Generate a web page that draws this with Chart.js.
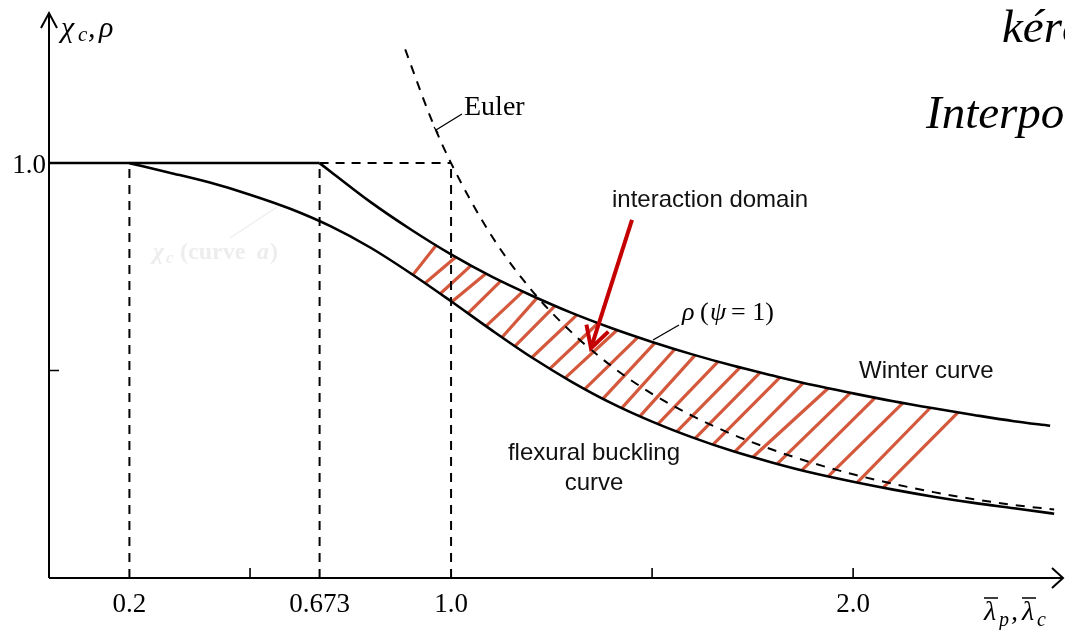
<!DOCTYPE html>
<html>
<head>
<meta charset="utf-8">
<script src="https://cdn.jsdelivr.net/npm/chart.js@4/dist/chart.umd.min.js"></script>
<style>
  html, body { margin: 0; padding: 0; background: #ffffff; }
  #wrap { width: 1065px; height: 630px; position: relative; }
</style>
</head>
<body>
<div id="wrap"><canvas id="c" width="1065" height="630"></canvas></div>
<script>
// Flexural buckling reduction factor (curve a)
const lambdaChi = [0.2, 0.3, 0.4, 0.5, 0.6, 0.7, 0.8, 0.9, 1.0, 1.1, 1.2, 1.3, 1.4, 1.5, 1.6, 1.7, 1.8, 1.9, 2.0, 2.1, 2.2, 2.3, 2.4, 2.5];
const chiC      = [1.0, 0.977, 0.953, 0.924, 0.890, 0.848, 0.796, 0.734, 0.667, 0.598, 0.532, 0.473, 0.421, 0.377, 0.339, 0.306, 0.278, 0.253, 0.232, 0.213, 0.196, 0.181, 0.168, 0.155];

// Winter plate buckling curve rho (psi = 1)
const lambdaRho = [0.673, 0.7, 0.8, 0.9, 1.0, 1.1, 1.2, 1.3, 1.4, 1.5, 1.6, 1.7, 1.8, 1.9, 2.0, 2.1, 2.2, 2.3, 2.4, 2.49];
const rhoWinter = [1.0, 0.980, 0.906, 0.840, 0.780, 0.727, 0.681, 0.639, 0.602, 0.569, 0.539, 0.512, 0.488, 0.465, 0.445, 0.426, 0.409, 0.393, 0.378, 0.367];

// Euler hyperbola
const lambdaEuler = [0.886, 0.95, 1.0, 1.1, 1.2, 1.3, 1.4, 1.5, 1.6, 1.7, 1.8, 1.9, 2.0, 2.1, 2.2, 2.3, 2.4, 2.5];
const eulerValues = [1.274, 1.108, 1.0, 0.826, 0.694, 0.592, 0.510, 0.444, 0.391, 0.346, 0.309, 0.277, 0.250, 0.227, 0.207, 0.190, 0.176, 0.165];

// Plateau and dashed reference lines
const plateauX = [0, 0.673];
const refVerticalX = [0.2, 0.673, 1.0];
const refHorizontalX = [0.673, 1.0];
const refLevel = 1.0;

// Hatching of the interaction domain: slenderness at the lower and upper end of each stroke
const hatchFrom = [0.905, 0.935, 0.973, 1.002, 1.042, 1.087, 1.127, 1.159, 1.201, 1.246, 1.284, 1.333, 1.378, 1.425, 1.470, 1.515, 1.562, 1.607, 1.652, 1.706, 1.751, 1.811, 1.873, 1.938, 2.010, 2.075];
const hatchTo   = [0.963, 1.012, 1.050, 1.087, 1.124, 1.179, 1.214, 1.259, 1.313, 1.366, 1.413, 1.465, 1.507, 1.557, 1.607, 1.664, 1.719, 1.769, 1.818, 1.876, 1.938, 1.993, 2.055, 2.124, 2.192, 2.261];

// Axis ticks and labels
const xTickValues = [0.2, 0.673, 1.0, 2.0];
const xTickLabels = ['0.2', '0.673', '1.0', '2.0'];
const xMinorTicks = [0.5, 1.5, 2.0];
const yTickValues = [1.0];
const yTickLabels = ['1.0'];
const yMinorTicks = [0.5];

// Arrow pointing into the interaction domain (slenderness, value)
const arrowStart = [1.450, 0.863];
const arrowEnd = [1.348, 0.554];

const SERIF = '"Liberation Serif", "DejaVu Serif", serif';
const SANS = '"Liberation Sans", Arial, sans-serif';

function pts(xs, ys) { return xs.map((x, i) => ({ x: x, y: ys[i] })); }
function interp(xs, ys, x) {
  for (let i = 0; i < xs.length - 1; i++) {
    if (x >= xs[i] && x <= xs[i + 1]) {
      const t = (x - xs[i]) / (xs[i + 1] - xs[i]);
      return ys[i] + t * (ys[i + 1] - ys[i]);
    }
  }
  return x < xs[0] ? ys[0] : ys[ys.length - 1];
}

const datasets = [];
datasets.push({ data: pts(plateauX, [refLevel, refLevel]), borderColor: '#000', borderWidth: 2.5, pointRadius: 0, showLine: true, tension: 0 });
datasets.push({ data: pts(lambdaChi, chiC), borderColor: '#000', borderWidth: 2.6, pointRadius: 0, showLine: true, cubicInterpolationMode: 'monotone' });
datasets.push({ data: pts(lambdaRho, rhoWinter), borderColor: '#000', borderWidth: 2.6, pointRadius: 0, showLine: true, cubicInterpolationMode: 'monotone' });
datasets.push({ data: pts(lambdaEuler, eulerValues), borderColor: '#000', borderWidth: 2, borderDash: [9, 8], pointRadius: 0, showLine: true, cubicInterpolationMode: 'monotone' });
refVerticalX.forEach(x => {
  datasets.push({ data: pts([x, x], [0, refLevel]), borderColor: '#000', borderWidth: 2, borderDash: [9, 7], pointRadius: 0, showLine: true });
});
datasets.push({ data: pts(refHorizontalX, [refLevel, refLevel]), borderColor: '#000', borderWidth: 2, borderDash: [9, 7], pointRadius: 0, showLine: true });

const decor = {
  id: 'decor',
  beforeDatasetsDraw(chart) {
    const ctx = chart.ctx, xs = chart.scales.x, ys = chart.scales.y;
    ctx.save();
    ctx.strokeStyle = '#d4583c';
    ctx.lineWidth = 3.2;
    ctx.lineCap = 'butt';
    hatchFrom.forEach((a, i) => {
      const b = hatchTo[i];
      ctx.beginPath();
      ctx.moveTo(xs.getPixelForValue(a), ys.getPixelForValue(interp(lambdaChi, chiC, a)));
      ctx.lineTo(xs.getPixelForValue(b), ys.getPixelForValue(interp(lambdaRho, rhoWinter, b)));
      ctx.stroke();
    });
    ctx.restore();
  },
  afterDraw(chart) {
    const ctx = chart.ctx, xs = chart.scales.x, ys = chart.scales.y;
    const X = v => xs.getPixelForValue(v), Y = v => ys.getPixelForValue(v);
    const x0 = X(0), y0 = Y(0);
    ctx.save();
    ctx.strokeStyle = '#000';
    ctx.fillStyle = '#000';
    ctx.lineWidth = 2;
    // axes
    ctx.beginPath();
    ctx.moveTo(x0, y0); ctx.lineTo(x0, chart.chartArea.top - 2);
    ctx.moveTo(x0, y0); ctx.lineTo(chart.chartArea.right, y0);
    ctx.stroke();
    // arrow heads
    ctx.beginPath();
    ctx.moveTo(x0 - 8, chart.chartArea.top + 13); ctx.lineTo(x0, chart.chartArea.top - 2); ctx.lineTo(x0 + 8, chart.chartArea.top + 13);
    ctx.moveTo(chart.chartArea.right - 11, y0 - 10); ctx.lineTo(chart.chartArea.right, y0); ctx.lineTo(chart.chartArea.right - 11, y0 + 10);
    ctx.stroke();
    // minor ticks
    ctx.lineWidth = 1.6;
    ctx.beginPath();
    xMinorTicks.forEach(v => { ctx.moveTo(X(v), y0); ctx.lineTo(X(v), y0 - 10); });
    yMinorTicks.forEach(v => { ctx.moveTo(x0, Y(v)); ctx.lineTo(x0 + 10, Y(v)); });
    ctx.stroke();

    // tick labels
    ctx.font = '27px ' + SERIF;
    ctx.textAlign = 'center';
    ctx.textBaseline = 'alphabetic';
    xTickValues.forEach((v, i) => ctx.fillText(xTickLabels[i], X(v), y0 + 34));
    ctx.textAlign = 'right';
    yTickValues.forEach((v, i) => ctx.fillText(yTickLabels[i], x0 - 3, Y(v) + 10));

    // axis titles
    ctx.textAlign = 'left';
    ctx.font = 'italic 30px ' + SERIF;
    ctx.fillText('\u03C7', 61, 37);
    ctx.font = 'italic 21px ' + SERIF;
    ctx.fillText('c', 78, 41);
    ctx.font = 'italic 30px ' + SERIF;
    ctx.fillText(',', 88, 37);
    ctx.fillText('\u03C1', 99, 37);

    // lambda_p, lambda_c with overbars
    ctx.font = 'italic 28px ' + SERIF;
    ctx.fillText('\u03BB', 984, 620);
    ctx.font = 'italic 20px ' + SERIF;
    ctx.fillText('p', 999, 626);
    ctx.font = 'italic 28px ' + SERIF;
    ctx.fillText(',', 1011, 620);
    ctx.fillText('\u03BB', 1022, 620);
    ctx.font = 'italic 20px ' + SERIF;
    ctx.fillText('c', 1037, 626);
    ctx.lineWidth = 1.5;
    ctx.beginPath();
    ctx.moveTo(984, 598); ctx.lineTo(998, 598);
    ctx.moveTo(1022, 598); ctx.lineTo(1036, 598);
    ctx.stroke();

    // Euler label with leader
    ctx.font = '28px ' + SERIF;
    ctx.fillText('Euler', 464, 115);
    ctx.lineWidth = 1.3;
    ctx.beginPath();
    ctx.moveTo(436, 130); ctx.lineTo(462, 114);
    ctx.moveTo(434, 127); ctx.lineTo(438, 133);
    ctx.stroke();

    // rho (psi = 1) label with leader
    ctx.font = 'italic 26px ' + SERIF;
    ctx.fillText('\u03C1', 682, 320);
    ctx.font = '26px ' + SERIF;
    ctx.fillText('(', 700, 320);
    ctx.font = 'italic 26px ' + SERIF;
    ctx.fillText('\u03C8', 710, 320);
    ctx.font = '26px ' + SERIF;
    ctx.fillText('= 1)', 731, 320);
    ctx.beginPath();
    ctx.moveTo(653, 340); ctx.lineTo(679, 325);
    ctx.stroke();

    // sans labels
    ctx.font = '24px ' + SANS;
    ctx.fillStyle = '#111';
    ctx.fillText('interaction domain', 612, 207);
    ctx.fillText('Winter curve', 859, 378);
    ctx.textAlign = 'center';
    ctx.fillText('flexural buckling', 594, 460);
    ctx.fillText('curve', 594, 490);

    // faint curve a label
    ctx.textAlign = 'left';
    ctx.fillStyle = '#ededed';
    ctx.strokeStyle = '#ededed';
    ctx.font = 'italic bold 24px ' + SERIF;
    ctx.fillText('\u03C7', 153, 259);
    ctx.font = 'italic bold 17px ' + SERIF;
    ctx.fillText('c', 166, 263);
    ctx.font = 'bold 24px ' + SERIF;
    ctx.fillText('(curve ', 180, 259);
    ctx.font = 'italic bold 24px ' + SERIF;
    ctx.fillText('a', 257, 259);
    ctx.font = 'bold 24px ' + SERIF;
    ctx.fillText(')', 270, 259);
    ctx.lineWidth = 1.2;
    ctx.beginPath();
    ctx.moveTo(230, 238); ctx.lineTo(277, 207);
    ctx.stroke();

    // red arrow
    const ax0 = X(arrowStart[0]), ay0 = Y(arrowStart[1]);
    const ax1 = X(arrowEnd[0]), ay1 = Y(arrowEnd[1]);
    ctx.strokeStyle = '#c40000';
    ctx.lineWidth = 4;
    ctx.lineCap = 'butt';
    ctx.beginPath();
    ctx.moveTo(ax0, ay0); ctx.lineTo(ax1, ay1);
    ctx.stroke();
    const ang = Math.atan2(ay0 - ay1, ax0 - ax1);
    const wl = 24, wa = 0.5;
    ctx.lineJoin = 'miter';
    ctx.beginPath();
    ctx.moveTo(ax1 + wl * Math.cos(ang - wa), ay1 + wl * Math.sin(ang - wa));
    ctx.lineTo(ax1, ay1);
    ctx.lineTo(ax1 + wl * Math.cos(ang + wa), ay1 + wl * Math.sin(ang + wa));
    ctx.stroke();

    // page text at top right
    ctx.fillStyle = '#000';
    ctx.font = 'italic 47px ' + SERIF;
    ctx.fillText('kéra', 1002, 42);
    ctx.fillText('Interpolation', 926, 128);
    ctx.restore();
  }
};

new Chart(document.getElementById('c'), {
  type: 'scatter',
  data: { datasets: datasets },
  options: {
    responsive: false,
    devicePixelRatio: 1,
    animation: false,
    layout: { padding: { left: 49, right: 2, top: 15, bottom: 52 } },
    plugins: { legend: { display: false }, tooltip: { enabled: false } },
    scales: {
      x: { type: 'linear', min: 0, max: 2.522, display: false },
      y: { type: 'linear', min: 0, max: 1.357, display: false }
    },
    elements: { line: { fill: false } }
  },
  plugins: [decor]
});
</script>
</body>
</html>
